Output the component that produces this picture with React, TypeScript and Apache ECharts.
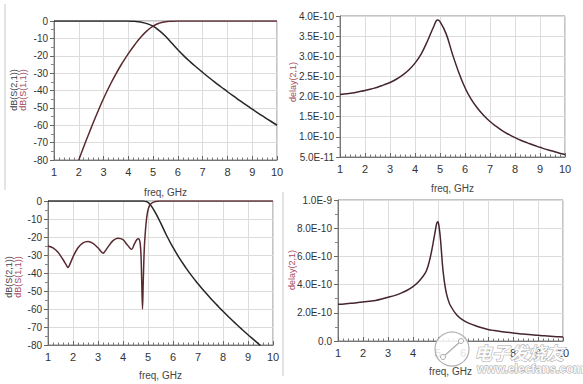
import React, { useEffect, useRef } from "react";
import * as echarts from "echarts";

// ---- Panel 1 (top-left): dB(S(2,1)) and dB(S(1,1)) ----
const p1S21Freq = [1, 2, 3, 3.75, 4, 4.25, 4.5, 4.75, 5, 5.25, 5.5, 5.75, 6, 6.25, 6.5, 6.75, 7, 7.25, 7.5, 7.75, 8, 8.25, 8.5, 8.75, 9, 9.25, 9.5, 9.75, 10];
const p1S21Db = [0, 0, 0, 0, -0.05, -0.2, -0.6, -1.5, -3, -5.6, -8.8, -12.7, -16.6, -20.2, -23.5, -26.6, -29.6, -32.5, -35.3, -38.0, -40.7, -43.3, -45.8, -48.3, -50.7, -53.1, -55.4, -57.7, -60];
const p1S11Freq = [2, 2.25, 2.5, 2.75, 3, 3.25, 3.5, 3.75, 4, 4.25, 4.5, 4.75, 5, 5.25, 5.5, 5.75, 6, 7, 8, 9, 10];
const p1S11Db = [-80, -70.5, -61.5, -52.8, -44.6, -37.2, -30.4, -24.3, -18.8, -13.8, -9.4, -5.7, -2.9, -1.2, -0.4, -0.1, 0, 0, 0, 0, 0];

// ---- Panel 2 (top-right): delay(2,1), units of 1e-10 s ----
const p2Freq = [1, 1.25, 1.5, 1.75, 2, 2.25, 2.5, 2.75, 3, 3.25, 3.5, 3.75, 4, 4.25, 4.5, 4.75, 4.9, 5, 5.25, 5.5, 5.75, 6, 6.25, 6.5, 6.75, 7, 7.25, 7.5, 7.75, 8, 8.25, 8.5, 8.75, 9, 9.25, 9.5, 9.75, 10];
const p2Delay = [2.05, 2.07, 2.09, 2.12, 2.15, 2.19, 2.23, 2.29, 2.35, 2.43, 2.53, 2.66, 2.83, 3.06, 3.38, 3.74, 3.9, 3.86, 3.55, 3.05, 2.6, 2.22, 1.93, 1.71, 1.53, 1.38, 1.26, 1.15, 1.06, 0.98, 0.91, 0.85, 0.79, 0.74, 0.69, 0.65, 0.6, 0.56];

// ---- Panel 3 (bottom-left): dB(S(2,1)) and dB(S(1,1)) ----
const p3S21Freq = [1, 4.8, 4.9, 5.0, 5.1, 5.2, 5.3, 5.4, 5.5, 5.75, 6, 6.25, 6.5, 6.75, 7, 7.25, 7.5, 7.75, 8, 8.25, 8.5, 8.75, 9, 9.25, 9.5];
const p3S21Db = [0, 0, -0.2, -0.8, -2.2, -4.2, -6.6, -9.2, -12, -19.3, -25.8, -31.6, -36.8, -41.6, -46, -50.1, -54, -57.7, -61.3, -64.7, -68, -71.2, -74.3, -77.3, -80.3];
const p3S11Freq = [1, 1.2, 1.4, 1.6, 1.75, 1.8, 1.85, 2.0, 2.2, 2.4, 2.6, 2.8, 3.0, 3.15, 3.2, 3.25, 3.4, 3.6, 3.8, 4.0, 4.15, 4.3, 4.35, 4.45, 4.55, 4.62, 4.68, 4.72, 4.75, 4.78, 4.81, 4.85, 4.9, 4.95, 5.0, 5.05, 5.1, 5.2, 5.3, 5.45, 10];
const p3S11Db = [-25, -26, -28.5, -32.5, -36, -37, -36, -31, -26, -23.3, -22.5, -23.5, -26, -28.5, -29, -28.5, -25.5, -22, -20.7, -21.5, -24, -26.5, -26.8, -24, -21.5, -21, -23, -30, -45, -60, -45, -27, -16, -9, -5, -3, -1.8, -0.8, -0.3, 0, 0];

// ---- Panel 4 (bottom-right): delay(2,1), units of 1e-10 s ----
const p4Freq = [1, 1.25, 1.5, 1.75, 2, 2.25, 2.5, 2.75, 3, 3.25, 3.5, 3.75, 4, 4.25, 4.5, 4.6, 4.7, 4.8, 4.9, 4.95, 5.0, 5.05, 5.1, 5.2, 5.3, 5.4, 5.5, 5.75, 6, 6.25, 6.5, 6.75, 7, 7.25, 7.5, 7.75, 8, 8.25, 8.5, 8.75, 9, 9.25, 9.5, 9.75, 10];
const p4Delay = [2.6, 2.63, 2.67, 2.71, 2.76, 2.82, 2.88, 2.98, 3.1, 3.22, 3.38, 3.58, 3.85, 4.25, 4.85, 5.3, 6.0, 6.9, 7.9, 8.35, 8.45, 8.0, 7.2, 5.0, 3.7, 2.95, 2.5, 1.85, 1.48, 1.25, 1.08, 0.94, 0.82, 0.74, 0.67, 0.62, 0.57, 0.52, 0.48, 0.44, 0.4, 0.37, 0.34, 0.31, 0.28];

const FONT = "'Liberation Sans', Arial, sans-serif";
const S21_COLOR = "#262626";
const S11_COLOR = "#5a2a30";
const DELAY_COLOR = "#45252e";

function pairs(xs: number[], ys: number[]) {
  return xs.map((x, i) => [x, ys[i]]);
}

function expLabel(v: number) {
  const r = Math.round(v * 100) / 100;
  if (r === 0) return "0.0";
  return (r * 1e-10).toExponential(1).toUpperCase().replace("E+", "E");
}

function xAxisFor(gridIndex: number, nameGap: number) {
  return {
    type: "value",
    gridIndex,
    min: 1,
    max: 10,
    interval: 1,
    name: "freq, GHz",
    nameLocation: "middle",
    nameGap,
    nameTextStyle: { fontSize: 10, color: "#444", fontFamily: FONT },
    axisLine: { show: true, onZero: false, lineStyle: { color: "#777", width: 1 } },
    axisTick: { show: true, inside: true, length: 4, lineStyle: { color: "#666" } },
    minorTick: { show: true, splitNumber: 5, length: 2.5, lineStyle: { color: "#777" } },
    axisLabel: { fontSize: 11, color: "#333", margin: 6, fontFamily: FONT },
    splitLine: { show: true, lineStyle: { color: "#dcdcdc", width: 1 } },
  };
}

function yAxisFor(gridIndex: number, min: number, max: number, interval: number, formatter: any) {
  return {
    type: "value",
    gridIndex,
    min,
    max,
    interval,
    axisLine: { show: true, onZero: false, lineStyle: { color: "#777", width: 1 } },
    axisTick: { show: true, inside: false, length: 4, lineStyle: { color: "#666" } },
    minorTick: { show: true, splitNumber: 2, length: 3, lineStyle: { color: "#888" } },
    axisLabel: { fontSize: 10, color: "#333", margin: 6, fontFamily: FONT, formatter },
    splitLine: { show: true, lineStyle: { color: "#dcdcdc", width: 1 } },
  };
}

function line(data: number[][], idx: number, color: string, smooth: number) {
  return {
    type: "line",
    xAxisIndex: idx,
    yAxisIndex: idx,
    data,
    showSymbol: false,
    smooth,
    lineStyle: { color, width: 1.5 },
    itemStyle: { color },
    z: 5,
  };
}

function vLabel(x: number, y: number, text: string, color: string) {
  return {
    type: "text",
    x,
    y,
    rotation: Math.PI / 2,
    style: {
      text,
      fill: color,
      font: `9px ${FONT}`,
      align: "center",
      verticalAlign: "middle",
    },
    z: 10,
  };
}

export default function App() {
  const ref = useRef<HTMLDivElement>(null);

  useEffect(() => {
    if (!ref.current) return;
    const chart = echarts.init(ref.current, null, { renderer: "svg" });
    const dbFmt = (v: number) => String(Math.round(v));
    const option: any = {
      animation: false,
      backgroundColor: "#ffffff",
      grid: [
        { left: 54, top: 21, width: 223, height: 139 },
        { left: 340, top: 16, width: 225, height: 141 },
        { left: 48, top: 201, width: 225, height: 144 },
        { left: 338, top: 200, width: 225, height: 141 },
      ].map((g) => ({ ...g, show: true, borderColor: "#888", borderWidth: 1, backgroundColor: "transparent" })),
      xAxis: [xAxisFor(0, 27), xAxisFor(1, 26), xAxisFor(2, 25), xAxisFor(3, 25)],
      yAxis: [
        yAxisFor(0, -80, 0, 10, dbFmt),
        yAxisFor(1, 0.5, 4, 0.5, expLabel),
        yAxisFor(2, -80, 0, 10, dbFmt),
        yAxisFor(3, 0, 10, 2, expLabel),
      ],
      series: [
        line(pairs(p1S21Freq, p1S21Db), 0, S21_COLOR, 0.5),
        line(pairs(p1S11Freq, p1S11Db), 0, S11_COLOR, 0.5),
        line(pairs(p2Freq, p2Delay), 1, DELAY_COLOR, 0.4),
        line(pairs(p3S21Freq, p3S21Db), 2, S21_COLOR, 0.5),
        line(pairs(p3S11Freq, p3S11Db), 2, S11_COLOR, 0.3),
        line(pairs(p4Freq, p4Delay), 3, DELAY_COLOR, 0.3),
      ],
      graphic: [
        { type: "line", shape: { x1: 5, y1: 4, x2: 5, y2: 190 }, style: { stroke: "#c8c8c8", lineWidth: 1 } },
        { type: "line", shape: { x1: 283, y1: 192, x2: 283, y2: 376 }, style: { stroke: "#c8c8c8", lineWidth: 1 } },
        vLabel(14, 90, "dB(S(2,1))", "#3c3c48"),
        vLabel(23, 90, "dB(S(1,1))", "#a44a60"),
        vLabel(9, 277, "dB(S(2,1))", "#3c3c48"),
        vLabel(18, 277, "dB(S(1,1))", "#a44a60"),
        vLabel(293, 82, "delay(2,1)", "#a44a60"),
        vLabel(292, 270, "delay(2,1)", "#a44a60"),
        // watermark
        { type: "circle", shape: { cx: 452, cy: 349, r: 17 }, style: { fill: "rgba(255,255,255,0.85)", stroke: "#b0b0b0", lineWidth: 1.2 }, z: 20 },
        { type: "line", shape: { x1: 443, y1: 357, x2: 461, y2: 341 }, style: { stroke: "#aaa", lineWidth: 1.2 }, z: 21 },
        { type: "circle", shape: { cx: 443, cy: 357, r: 2.5 }, style: { fill: "#fff", stroke: "#aaa", lineWidth: 1 }, z: 21 },
        { type: "circle", shape: { cx: 461, cy: 341, r: 2.5 }, style: { fill: "#fff", stroke: "#aaa", lineWidth: 1 }, z: 21 },
        {
          type: "text", x: 474, y: 352, z: 20,
          style: { text: "电子发烧友", fill: "rgba(255,255,255,0.9)", stroke: "#a8a8a8", lineWidth: 1, font: `italic bold 18px 'Noto Sans CJK SC', sans-serif`, verticalAlign: "middle" },
        },
        {
          type: "text", x: 477, y: 369, z: 20,
          style: { text: "www.elecfans.com", fill: "rgba(255,255,255,0.9)", stroke: "#a8a8a8", lineWidth: 1, font: `bold 12px ${FONT}`, verticalAlign: "middle" },
        },
      ],
    };
    chart.setOption(option);
    return () => chart.dispose();
  }, []);

  return (
    <div
      ref={ref}
      style={{ position: "absolute", left: 0, top: 0, width: 583, height: 384, background: "#fff" }}
    />
  );
}
